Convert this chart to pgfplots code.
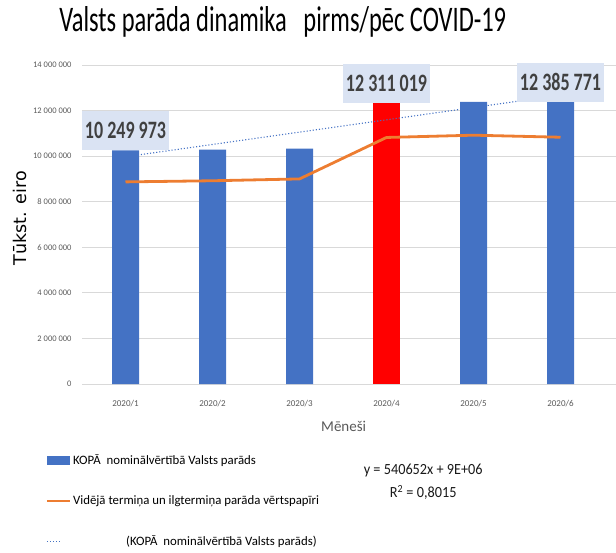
\documentclass[border=0pt]{standalone}
\usepackage{pgfplots}
\pgfplotsset{compat=1.18}
\usepackage{fontspec}
\setmainfont{Carlito}
\newfontfamily\dejavu{DejaVu Sans}
\definecolor{barblue}{HTML}{4472C4}
\definecolor{barred}{HTML}{FF0000}
\definecolor{lineorange}{HTML}{ED7D31}
\definecolor{labelbox}{HTML}{DAE3F3}
\definecolor{txtgray}{HTML}{595959}
\definecolor{gridgray}{HTML}{D9D9D9}
\newcommand{\cond}[2]{\scalebox{#1}[1]{#2}}
\begin{document}
\begin{tikzpicture}
\path[use as bounding box] (0,0) rectangle (616pt,-552pt);
\begin{axis}[
  at={(82pt,-384pt)}, anchor=south west,
  scale only axis, width=534pt, height=319pt,
  xmin=-0.5, xmax=5.638, ymin=0, ymax=14000000,
  axis line style={draw=none}, tick style={draw=none},
  ymajorgrids, grid style={gridgray, line width=0.8pt},
  ytick={0,2000000,4000000,6000000,8000000,10000000,12000000,14000000},
  scaled y ticks=false,
  /pgf/number format/assume math mode=true,
  yticklabel style={/pgf/number format/fixed, /pgf/number format/precision=0, /pgf/number format/1000 sep={\ }},
  yticklabel style={font=\fontsize{8.5}{9}\selectfont, text=txtgray, xshift=-7pt},
  xtick={0,1,2,3,4,5},
  xticklabels={2020/1,2020/2,2020/3,2020/4,2020/5,2020/6},
  xticklabel style={font=\fontsize{9}{9}\selectfont, text=txtgray, yshift=-13pt},
  xlabel={Mēneši},
  xlabel style={font=\fontsize{15}{16}\selectfont, text=txtgray, at={(rel axis cs:0.49,-0.134)}, anchor=center},
  ylabel={\dejavu Tūkst. eiro},
  ylabel style={font=\fontsize{17.5}{18}\selectfont, text=black, at={(rel axis cs:-0.116,0.52)}, anchor=center},
  title={\cond{0.68}{Valsts parāda dinamika \ \ pirms/pēc COVID-19}},
  title style={font=\fontsize{36}{36}\selectfont, at={(rel axis cs:0.376,1.116)}, anchor=center},
  legend style={at={(-0.069,-0.214)}, anchor=north west, draw=none, fill=none,
    font=\fontsize{12.8}{13}\selectfont, row sep=26pt, inner sep=0pt},
  legend cell align=left,
  clip=false,
]
% blue bars
\addplot[ybar, bar width=27pt, bar shift=0pt, fill=barblue, draw=none,
  legend image code/.code={\fill[barblue] (0pt,-4.5pt) rectangle (23pt,4.5pt);}]
  coordinates {(0,10249973) (1,10290000) (2,10330000) (4,12380000) (5,12385771)};
\addlegendentry{KOPĀ \ nominālvērtībā Valsts parāds}
% red bar
\addplot[ybar, bar width=27pt, bar shift=0pt, fill=barred, draw=none, forget plot]
  coordinates {(3,12311019)};
% orange line
\addplot[lineorange, line width=2.8pt, mark=none,
  legend image code/.code={\draw[lineorange, line width=2.8pt] (0pt,0pt) -- (23pt,0pt);}]
  coordinates {(0,8870000) (1,8920000) (2,9000000) (3,10820000) (4,10920000) (5,10830000)};
\addlegendentry{Vidējā termiņa un ilgtermiņa parāda vērtspapīri}
% trend line
\addplot[barblue, line width=1.1pt, dotted, mark=none,
  legend image code/.code={\draw[barblue, line width=1.1pt, dotted] (0pt,0pt) -- (15pt,0pt); \path (23pt,0pt);}]
  coordinates {(0,9973000) (5,12676000)};
\addlegendentry{\hspace{53pt}(KOPĀ \ nominālvērtībā Valsts parāds)}
% data labels
\addplot[draw=none, mark=none, forget plot,
  nodes near coords, point meta=explicit symbolic,
  nodes near coords style={font=\fontsize{25}{25}\selectfont\bfseries, text=black!75,
    fill=labelbox, inner xsep=3pt, minimum height=39pt, anchor=south, yshift=0pt}]
  coordinates {(0,10249973)[\cond{0.72}{10 249 973}] (3,12311019)[\cond{0.72}{12 311 019}] (5,12385771)[\cond{0.72}{12 385 771}]};
\node[font=\fontsize{15.5}{23}\selectfont, align=center, text=black!90] at (rel axis cs:0.639,-0.306)
  {\cond{0.92}{y = 540652x + 9E+06}\\\cond{0.92}{R\textsuperscript{2} = 0,8015}};
\end{axis}
\end{tikzpicture}
\end{document}
